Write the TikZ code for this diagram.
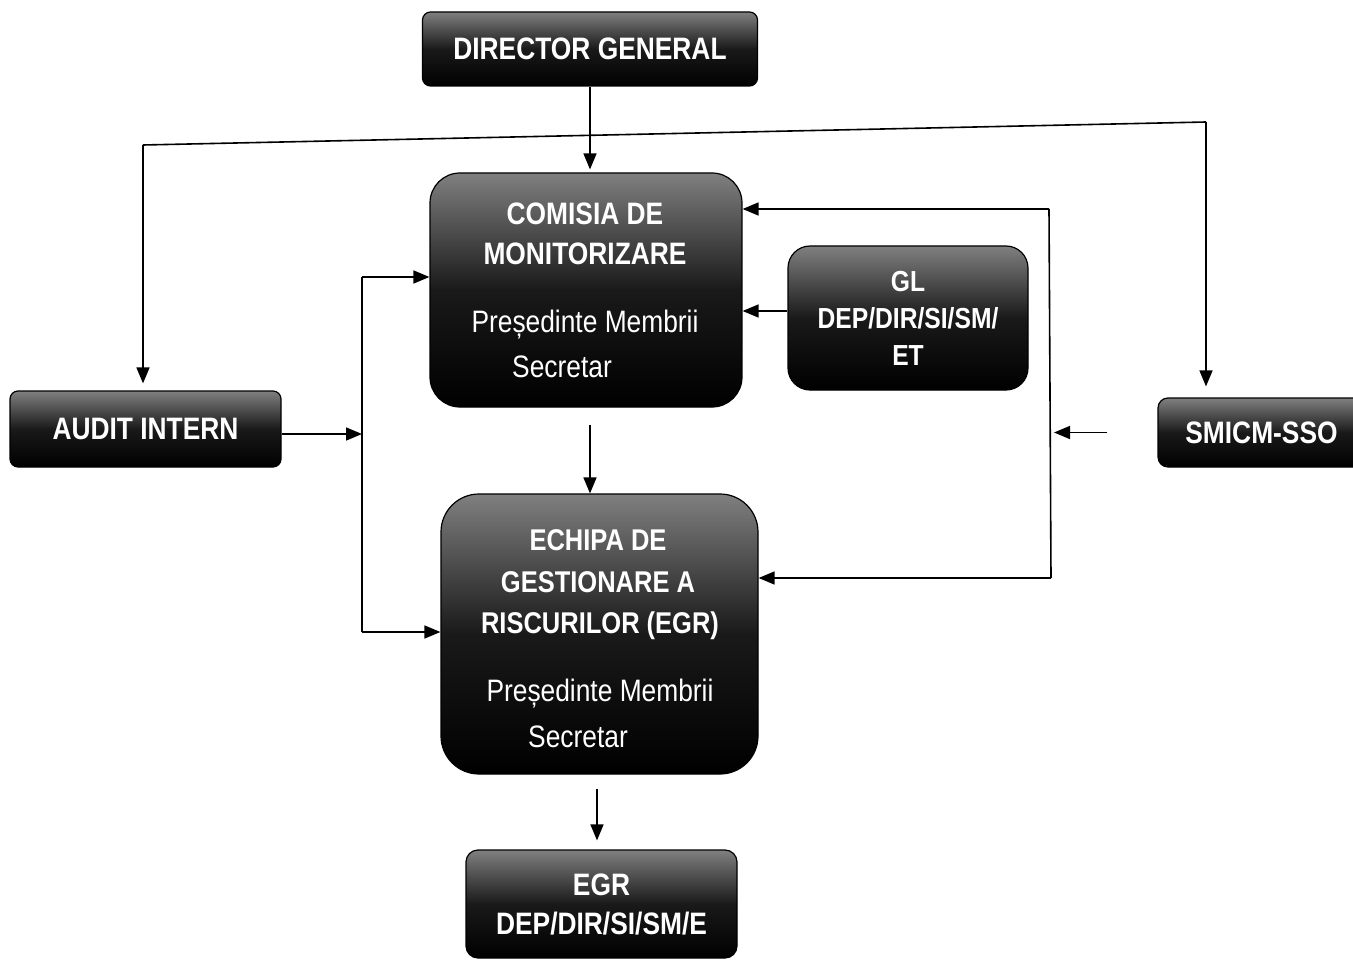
\documentclass[tikz,border=0pt]{standalone}
\usepackage{fontspec}
\setmainfont{Liberation Sans}[FakeStretch=0.85]
\usetikzlibrary{arrows.meta}
\begin{document}
\begin{tikzpicture}[x=1pt,y=-1pt,
  box/.style={draw=black, line width=1.2pt, top color=black!50, bottom color=black, middle color=black!90, inner sep=0pt, text=white, align=center},
  ttl/.style={text=white, inner sep=0pt, font=\bfseries\fontsize{31}{36}\selectfont},
  reg/.style={text=white, inner sep=0pt, font=\fontsize{31}{36}\selectfont},
  arr/.style={line width=1.6pt, -{Triangle[length=16pt,width=13pt]}},
  ln/.style={line width=1.6pt}]
\clip (0,0) rectangle (1353,960);
\fill[white] (0,0) rectangle (1353,960);
% boxes
\node[box, font=\bfseries\fontsize{31}{36}\selectfont, minimum width=335pt, minimum height=74pt, rounded corners=8pt] (dg) at (590,49) {DIRECTOR GENERAL};
\node[box, minimum width=312pt, minimum height=234pt, rounded corners=30pt] (com) at (586,290) {};
\node[box, font=\bfseries\fontsize{29}{37}\selectfont, minimum width=240pt, minimum height=144pt, rounded corners=22pt] (gl) at (908,318) {GL\\DEP/DIR/SI/SM/\\ET};
\node[box, font=\bfseries\fontsize{31}{36}\selectfont, minimum width=271pt, minimum height=76pt, rounded corners=8pt] (audit) at (145.5,429) {AUDIT INTERN};
\node[box, font=\bfseries\fontsize{31}{36}\selectfont, minimum width=207pt, minimum height=69pt, rounded corners=10pt] (smicm) at (1261.5,432.5) {SMICM-SSO};
\node[box, minimum width=317pt, minimum height=280pt, rounded corners=38pt] (egr) at (599.5,634) {};
\node[box, font=\bfseries\fontsize{31}{39}\selectfont, minimum width=271pt, minimum height=108pt, rounded corners=12pt] (bot) at (601.5,904) {EGR\\DEP/DIR/SI/SM/E};
% texts inside large boxes
\node[ttl] (c1) at (585,214) {COMISIA DE};
\node[ttl] (c2) at (585,254) {MONITORIZARE};
\node[reg] (c3) at (585,325) {Președinte Membrii};
\node[reg] (c4) at (562,367) {Secretar};
\node[ttl, font=\bfseries\fontsize{30}{34}\selectfont] (e1) at (598,540) {ECHIPA DE};
\node[ttl, font=\bfseries\fontsize{30}{34}\selectfont] (e2) at (598,582) {GESTIONARE A};
\node[ttl, font=\bfseries\fontsize{30}{34}\selectfont] (e3) at (600,626) {RISCURILOR (EGR)};
\node[reg] (e4) at (600,694) {Președinte Membrii};
\node[reg] (e5) at (578,737) {Secretar};
% coordinates
\coordinate (tl) at (143,145);
\coordinate (tr) at (1206,122);
\coordinate (rt) at (1049,209);
\coordinate (rb) at (1051,578);
\coordinate (lt) at (362,277);
\coordinate (lb) at (362,632);
% connectors
\draw[arr, shorten >=3pt] (dg.south) -- (dg.south |- com.north);
\draw[ln] (tl) -- (tr);
\draw[arr, shorten >=7pt] (tl) -- (tl |- audit.north);
\draw[arr, shorten >=11pt] (tr) -- (tr |- smicm.north);
\draw[arr] (rt) -- (rt -| com.east);
\draw[ln] (rt) -- (rb);
\draw[arr] (rb) -- (rb -| egr.east);
\draw[arr, shorten <=50pt, shorten >=3pt] (smicm.west) -- (smicm.west -| rb);
\draw[arr] (gl.west |- 0,311) -- (com.east |- 0,311);
\draw[arr] (lt) -- (lt -| com.west);
\draw[ln] (lt) -- (lb);
\draw[arr] (lb) -- (lb -| egr.west);
\draw[arr] (audit.east |- 0,434) -- (lt |- 0,434);
\draw[arr, shorten <=17pt] (com.south -| 590,0) -- (egr.north -| 590,0);
\draw[arr, shorten <=14pt, shorten >=9pt] (egr.south -| 597,0) -- (bot.north -| 597,0);
\end{tikzpicture}
\end{document}
